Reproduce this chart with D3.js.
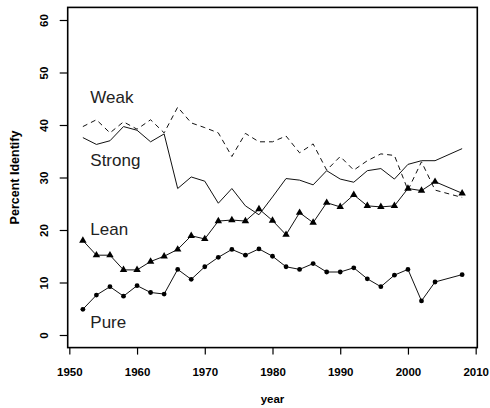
<!DOCTYPE html>
<html>
<head>
<meta charset="utf-8">
<script src="https://cdn.jsdelivr.net/npm/d3@7"></script>
<style>
  body { margin: 0; background: #fff; }
  svg { display: block; }
</style>
</head>
<body>
<script>
    // election years (no 2006 survey)
    var years = [1952, 1954, 1956, 1958, 1960, 1962, 1964, 1966, 1968, 1970, 1972, 1974, 1976, 1978, 1980,
                 1982, 1984, 1986, 1988, 1990, 1992, 1994, 1996, 1998, 2000, 2002, 2004, 2008];

    var strong = [37.6, 36.3, 37.0, 39.7, 39.0, 36.8, 38.3, 27.9, 30.1, 29.3, 25.1, 27.9, 24.6, 22.9, 26.3,
                  29.8, 29.5, 28.6, 31.3, 29.7, 29.1, 31.3, 31.7, 29.7, 32.5, 33.2, 33.2, 35.5];
    var weak = [39.7, 41.0, 38.5, 40.6, 39.2, 41.0, 38.5, 43.4, 40.4, 39.5, 38.5, 34.0, 38.4, 36.8, 36.8,
                37.9, 34.7, 36.4, 31.4, 34.0, 31.4, 33.2, 34.5, 34.2, 27.6, 33.0, 27.6, 26.2];
    var lean = [18.0, 15.2, 15.2, 12.4, 12.4, 14.0, 15.0, 16.3, 18.9, 18.3, 21.7, 21.9, 21.7, 24.0, 21.8,
                19.1, 23.3, 21.4, 25.2, 24.4, 26.7, 24.6, 24.4, 24.6, 27.9, 27.5, 29.2, 27.0];
    var pure = [4.9, 7.6, 9.2, 7.4, 9.4, 8.1, 7.8, 12.5, 10.6, 13.0, 14.8, 16.3, 15.2, 16.4, 15.0,
                13.0, 12.5, 13.6, 12.0, 12.0, 12.8, 10.7, 9.2, 11.4, 12.5, 6.5, 10.1, 11.5];

    var seriesNames = ["Weak", "Strong", "Lean", "Pure"];
    var xTicks = [1950, 1960, 1970, 1980, 1990, 2000, 2010];
    var yTicks = [0, 10, 20, 30, 40, 50, 60];

    var width = 490;
    var height = 408;
    // plot box edges (note: "top" is reserved on window)
    var boxL = 67.7, boxR = 477.3, boxT = 7.4, boxB = 347.6;
    var fontFam = "'Liberation Sans', Arial, sans-serif";

    var svg = d3.select("body").append("svg")
                .attr("width", width)
                .attr("height", height);

    // R style: range padded 4% each side
    var x = d3.scaleLinear().domain([1949.76, 2010.24]).range([boxL, boxR]);
    var y = d3.scaleLinear().domain([-2.4, 62.4]).range([boxB, boxT]);

    var line = d3.line()
        .x(function(d) { return x(d[0]); })
        .y(function(d) { return y(d[1]); });

    function pairs(vals) {
      return years.map(function(yr, i) { return [yr, vals[i]]; });
    }

    // lines
    svg.append("path").datum(pairs(weak))
        .attr("d", line).attr("fill", "none").attr("stroke", "#111")
        .attr("stroke-width", 1).attr("stroke-dasharray", "5,4");
    svg.append("path").datum(pairs(strong))
        .attr("d", line).attr("fill", "none").attr("stroke", "#111").attr("stroke-width", 1);
    svg.append("path").datum(pairs(lean))
        .attr("d", line).attr("fill", "none").attr("stroke", "#111").attr("stroke-width", 1);
    svg.append("path").datum(pairs(pure))
        .attr("d", line).attr("fill", "none").attr("stroke", "#111").attr("stroke-width", 1);

    // triangles for lean
    svg.selectAll("path.tri")
        .data(pairs(lean))
        .enter()
        .append("path")
        .attr("class", "tri")
        .attr("d", d3.symbol().type(d3.symbolTriangle).size(24))
        .attr("transform", function(d) { return "translate(" + x(d[0]) + "," + y(d[1]) + ")"; })
        .attr("fill", "#000");

    // dots for pure
    svg.selectAll("circle.dot")
        .data(pairs(pure))
        .enter()
        .append("circle")
        .attr("class", "dot")
        .attr("cx", function(d) { return x(d[0]); })
        .attr("cy", function(d) { return y(d[1]); })
        .attr("r", 2.4)
        .attr("fill", "#000");

    // series labels, placed like text() calls in the original
    var labelPos = { Weak: 44.2, Strong: 32.2, Lean: 19.0, Pure: 1.3 };
    svg.selectAll("text.series")
        .data(seriesNames)
        .enter()
        .append("text")
        .attr("class", "series")
        .text(function(d) { return d; })
        .attr("x", x(1953.1))
        .attr("y", function(d) { return y(labelPos[d]); })
        .attr("font-family", fontFam)
        .attr("font-size", "17px")
        .attr("fill", "#222");

    // box
    svg.append("rect")
        .attr("x", boxL).attr("y", boxT)
        .attr("width", boxR - boxL).attr("height", boxB - boxT)
        .attr("fill", "none").attr("stroke", "#000").attr("stroke-width", 1.6);

    // x axis
    var gx = svg.append("g")
        .attr("transform", "translate(0," + boxB + ")")
        .call(d3.axisBottom(x).tickValues(xTicks).tickSize(7).tickFormat(d3.format("d")));
    gx.select(".domain").remove();
    gx.selectAll("line").attr("stroke", "#000").attr("stroke-width", 1.2);
    gx.selectAll("text")
        .attr("y", 28.5).attr("dy", 0)
        .attr("font-family", fontFam).attr("font-weight", "bold")
        .attr("font-size", "11.5px").attr("fill", "#000");

    // y axis, labels turned like R's default
    var gy = svg.append("g")
        .attr("transform", "translate(" + boxL + ",0)")
        .call(d3.axisLeft(y).tickValues(yTicks).tickSize(8));
    gy.select(".domain").remove();
    gy.selectAll("line").attr("stroke", "#000").attr("stroke-width", 1.2);
    gy.selectAll("text")
        .attr("transform", "rotate(-90)")
        .attr("x", 0).attr("y", -19.4).attr("dy", 0)
        .attr("text-anchor", "middle")
        .attr("font-family", fontFam).attr("font-weight", "bold")
        .attr("font-size", "11.5px").attr("fill", "#000");

    // axis titles
    svg.append("text")
        .text("year")
        .attr("x", (boxL + boxR) / 2)
        .attr("y", 403)
        .attr("text-anchor", "middle")
        .attr("font-family", fontFam).attr("font-weight", "bold")
        .attr("font-size", "11.5px");

    svg.append("text")
        .text("Percent Identify")
        .attr("transform", "translate(19," + (boxT + boxB) / 2 + ") rotate(-90)")
        .attr("text-anchor", "middle")
        .attr("font-family", fontFam).attr("font-weight", "bold")
        .attr("font-size", "12.5px");
</script>
</body>
</html>
